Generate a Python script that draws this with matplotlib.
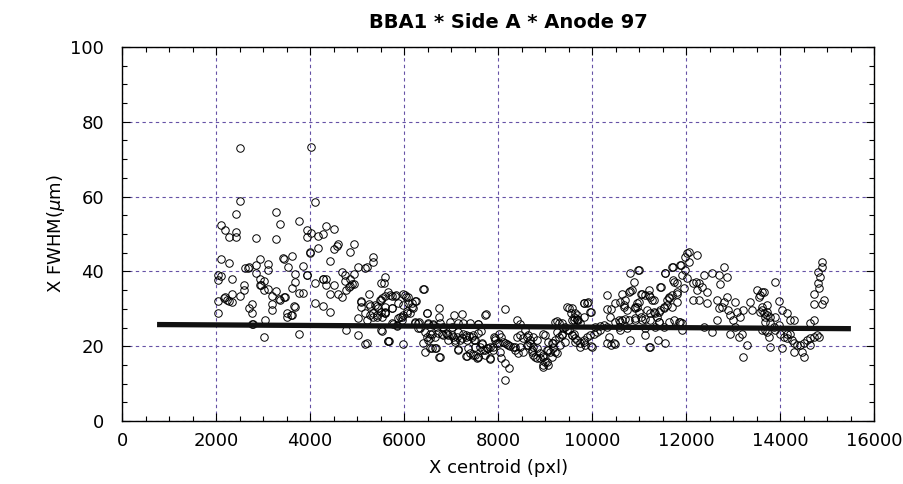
import numpy as np
import matplotlib
matplotlib.use("Agg")
import matplotlib.pyplot as plt
from matplotlib.ticker import MultipleLocator

plt.rcParams['font.family'] = ['DejaVu Sans']
plt.rcParams['mathtext.fontset'] = 'dejavusans'

# centroid / FWHM pairs, anode 97, split in three x ranges
x_left = [2518, 2518, 2433, 2107, 2192, 2270, 2433, 2433, 2107, 2283, 2043, 2107, 2036, 2341,
          2602, 2602, 2518, 2347, 2043, 2185, 2228, 2283, 2347, 2036, 2858, 2624, 2695, 2858,
          2928, 2858, 2928, 3013, 3100, 3100, 2695, 2773, 2773, 2952, 3022, 3100, 3183, 3268,
          3183, 3183, 2773, 3036, 3015, 3268, 3268, 3353, 3346, 3440, 3447, 3525, 3609, 3673,
          3673, 3609, 3766, 3766, 3843, 3681, 3516, 3516, 3609, 3766, 3851, 3928, 3928, 3928,
          4006, 4022, 4107, 4013, 4107, 4107, 4176, 4268, 4176, 4347, 4517, 4268, 4341, 4347,
          4432, 4268, 4432, 4432, 4517, 4588, 4517, 4588, 4673, 4673, 4745, 4751, 4852, 4937,
          4852, 4937, 4760, 4852, 4937, 5015, 5169, 5334, 5334, 4760, 5015, 5176, 5015, 5091,
          5091, 5171, 5256, 5339, 5418, 5505, 5590, 5418, 5505, 5590, 5512, 5660, 5580, 2780,
          2177, 2688, 2937, 3362, 3418, 4001, 3943, 4283, 4887, 4837, 4566, 3468, 3596, 3666,
          5086, 5207, 5256, 5490, 5384, 5278, 5452, 5420, 5278, 5207, 5349, 5207, 5512]
y_left = [72.9, 58.9, 55.4, 52.5, 51.0, 49.3, 50.5, 49.1, 43.3, 42.3, 39.0, 38.9, 37.6, 38.0,
          36.3, 35.0, 33.3, 34.1, 32.2, 33.2, 32.4, 32.0, 31.9, 28.9, 49.0, 40.9, 41.3, 41.7,
          43.4, 39.5, 38.0, 37.5, 42.1, 40.4, 30.1, 28.9, 31.4, 36.3, 35.0, 35.4, 33.5, 34.7,
          31.2, 29.7, 25.9, 26.9, 22.4, 55.9, 48.7, 52.6, 32.5, 33.1, 43.4, 41.2, 44.1, 39.2,
          37.1, 35.7, 53.6, 34.2, 34.2, 30.6, 28.8, 27.8, 28.3, 23.4, 41.5, 51.1, 49.3, 39.0,
          45.1, 73.3, 58.6, 50.4, 37.0, 31.6, 49.4, 50.1, 46.2, 52.1, 51.4, 38.0, 38.0, 36.3,
          34.1, 30.7, 29.1, 42.8, 46.0, 47.4, 36.3, 33.9, 33.2, 39.8, 39.0, 37.5, 38.0, 39.3,
          45.1, 47.2, 35.0, 36.2, 36.6, 41.3, 41.0, 43.8, 42.5, 24.3, 23.0, 20.5, 27.6, 32.2,
          30.4, 29.0, 31.3, 28.8, 30.8, 32.4, 33.4, 27.9, 29.2, 29.0, 24.3, 21.5, 36.8, 25.9,
          33.0, 40.8, 36.4, 32.4, 43.5, 45.0, 39.0, 37.9, 36.6, 35.9, 46.8, 33.2, 28.3, 30.7,
          31.9, 41.1, 34.1, 32.4, 31.0, 30.7, 30.1, 28.3, 28.3, 27.0, 27.9, 20.8, 36.8]

x_mid = [5590, 5665, 5750, 5830, 5880, 5986, 6037, 6091, 5526, 5597, 5746, 5597, 5526, 5916,
         5986, 6058, 6129, 6200, 6164, 6256, 6427, 5774, 5845, 5526, 5665, 5986, 6235, 6324,
         6341, 6497, 6737, 6737, 6518, 6624, 6554, 6660, 6731, 6801, 6554, 6412, 6448, 6590,
         6682, 6751, 6980, 7065, 7228, 7015, 6822, 6895, 6943, 6943, 7050, 7086, 7157, 7250,
         7313, 7390, 7157, 7320, 7405, 7512, 7547, 7582, 7405, 7569, 7746, 7475, 7497, 7654,
         7618, 7689, 7760, 7831, 7831, 7902, 7973, 8009, 8059, 7938, 8150, 8065, 8150, 8242,
         8150, 8397, 8469, 8397, 8469, 8540, 8150, 8220, 8327, 8363, 8433, 8525, 8610, 8682,
         8717, 8752, 8823, 8895, 8965, 8965, 9036, 9071, 9142, 9214, 8576, 8645, 8752, 8823,
         9001, 8965, 9214, 9285, 9356, 9427, 9249, 9356, 9462, 9569, 9604, 9462, 9547, 9604,
         9675, 9177, 9320, 9427, 9640, 5703, 5809, 6022, 6093, 6235, 5739, 5986, 6164, 5597,
         5951, 6058, 5880, 5951, 5845, 5739, 6235, 6306, 6412, 6483, 6767, 6695, 6624, 6518,
         6590, 6483, 6518, 6554, 6660, 6767, 6837, 5669, 6306, 6448, 7157, 7263, 7582, 7725,
         6908, 7015, 7121, 7228, 7313, 7441, 7582, 7640, 7086, 7192, 7335, 7512, 7654, 7157,
         7369, 7512, 7725, 7795, 7902, 7938, 7923, 8009, 8044, 8114, 8185, 8257, 8363, 8469,
         7335, 7475, 7582, 7725, 7831, 8611, 8682, 8646, 8752, 8717, 8823, 8895, 8788, 8965,
         9001, 9071, 8965, 9036, 9107, 9178, 9249, 9071, 9142, 9214, 9285, 9356, 9249, 9391,
         9498, 9498, 9675, 9569, 9710, 9817, 9888, 9817, 9959, 9994, 9675, 9746, 9817, 9888,
         9959]
y_mid = [38.6, 34.6, 33.4, 33.7, 31.5, 34.0, 33.2, 33.1, 32.8, 30.4, 30.1, 28.8, 27.9, 27.9,
         28.3, 29.4, 29.0, 30.1, 31.5, 32.2, 35.4, 25.9, 25.5, 24.1, 21.5, 20.6, 26.1, 26.4,
         24.8, 28.8, 30.1, 27.9, 25.9, 25.9, 23.4, 22.5, 23.6, 23.3, 22.1, 20.8, 18.5, 19.4,
         19.4, 17.2, 26.5, 28.3, 28.6, 25.2, 25.2, 23.6, 23.0, 21.7, 22.5, 21.2, 23.9, 23.4,
         22.5, 22.8, 19.0, 17.4, 18.1, 17.6, 16.8, 17.2, 26.1, 25.9, 28.5, 23.0, 21.7, 20.6,
         19.9, 19.0, 19.4, 19.9, 16.5, 19.0, 20.8, 23.4, 22.5, 22.1, 29.9, 16.8, 15.4, 14.3,
         11.0, 27.0, 25.9, 22.5, 23.0, 22.1, 20.8, 20.3, 19.9, 19.0, 18.1, 18.5, 20.3, 20.8,
         19.0, 17.6, 16.8, 18.1, 17.2, 15.0, 15.9, 19.0, 17.2, 18.5, 24.3, 23.0, 22.5, 21.7,
         23.0, 23.4, 26.5, 26.1, 26.1, 25.2, 23.9, 23.4, 24.3, 23.0, 23.4, 30.6, 29.0, 27.9,
         27.2, 20.8, 20.3, 21.2, 21.2, 33.7, 33.4, 33.7, 31.5, 32.2, 30.1, 31.0, 30.6, 29.2,
         27.9, 28.8, 27.5, 27.0, 25.7, 26.1, 26.5, 26.1, 35.4, 28.8, 26.1, 25.2, 25.7, 26.1,
         23.4, 22.5, 21.7, 19.4, 19.4, 17.2, 23.0, 21.4, 24.8, 23.9, 26.1, 26.1, 25.9, 28.3,
         23.4, 23.0, 22.5, 22.1, 23.0, 22.5, 23.6, 24.1, 21.7, 21.8, 21.7, 21.7, 20.8, 19.2,
         19.4, 19.9, 19.0, 19.4, 19.9, 21.7, 22.5, 20.8, 18.5, 21.2, 20.6, 20.1, 19.9, 19.7,
         17.4, 17.6, 17.2, 17.6, 16.8, 22.5, 21.7, 20.3, 19.9, 18.5, 19.4, 16.8, 17.2, 17.6,
         15.9, 15.0, 14.5, 19.0, 18.5, 19.4, 18.1, 21.2, 20.8, 21.7, 22.5, 23.0, 26.8, 24.8,
         24.3, 30.1, 28.3, 27.0, 27.0, 27.9, 31.6, 31.5, 29.2, 19.9, 21.7, 20.8, 21.7, 22.5,
         23.0]

x_right = [9569, 9640, 9604, 9675, 9746, 9817, 9902, 9980, 9569, 9640, 9732, 9817, 9853, 9973,
           10030, 10101, 10172, 10066, 10172, 10243, 10314, 10314, 10314, 10399, 10384, 10491,
           10314, 10399, 10491, 10562, 10633, 10598, 10740, 10633, 10704, 10669, 10740, 10811,
           10917, 10953, 10988, 10811, 10896, 10811, 10988, 11038, 11129, 11236, 11214, 11307,
           11165, 11236, 10917, 11058, 11129, 11129, 11236, 11307, 11378, 11413, 11449, 11520,
           11591, 11626, 11697, 11221, 11392, 11555, 11463, 11541, 11718, 11718, 11803, 11803,
           11895, 11980, 12016, 12052, 11980, 12016, 12052, 12143, 12214, 12264, 12335, 12228,
           12228, 12385, 12441, 12547, 12441, 12282, 12143, 11874, 11909, 12370, 12547, 12654,
           12689, 12795, 12866, 12760, 12901, 13043, 13078, 13150, 13220, 13363, 13398, 12795,
           12866, 12710, 12689, 12937, 13007, 13043, 13114, 13185, 13291, 13206, 12937, 12654,
           13506, 13612, 13540, 13612, 13718, 13683, 13753, 13683, 10974, 10845, 10789, 10598,
           10669, 10988, 10953, 10917, 11058, 11200, 11271, 11044, 11129, 10917, 10775, 10704,
           10598, 10491, 10562, 10349, 10455, 11200, 11342, 11413, 11520, 11591, 11626, 11697,
           11449, 11555, 11733, 11803, 11803, 11697, 11874, 11909, 11945, 11342, 11413, 11520,
           11626, 11733, 11839, 11909, 13576, 13647, 13576, 13647, 13718, 13789, 13896, 13683,
           13789, 13860, 13966, 13612, 13718, 13896, 14002, 14072, 14143, 14215, 14143, 14250,
           14286, 14357, 14428, 14499, 14570, 14641, 14712, 14783, 14641, 14463, 14499, 14286,
           14037, 13789, 13896, 13966, 14037, 14143, 14215, 14286, 14712, 14818, 14641, 13612,
           13718, 14889, 14889, 14796, 14838, 14796, 14725, 14818, 14924, 14889, 14712]
y_right = [30.1, 28.8, 27.0, 27.0, 26.1, 31.6, 31.8, 29.2, 23.0, 22.1, 19.9, 21.2, 20.3, 20.1,
           23.4, 23.9, 24.3, 25.2, 25.4, 25.7, 25.2, 33.7, 29.9, 29.9, 27.9, 31.6,
           20.8, 20.3, 20.6, 27.0, 27.0, 24.3, 24.8, 34.0, 32.4, 31.0, 29.7, 21.7,
           30.4, 31.6, 29.2, 39.5, 37.2, 34.8, 40.4, 34.1, 33.7, 33.2, 35.0, 32.4,
           29.7, 28.8, 27.0, 27.0, 24.8, 23.0, 27.0, 29.2, 27.9, 26.5, 29.7, 30.6,
           32.4, 33.2, 33.7, 19.7, 21.8, 20.9, 35.9, 39.5, 41.3, 37.7, 36.8, 34.1,
           41.7, 43.9, 44.8, 45.3, 40.4, 38.2, 42.6, 36.8, 37.2, 36.8, 35.9, 35.0,
           44.5, 39.0, 34.6, 39.5, 31.5, 32.4, 32.4, 26.5, 24.3, 25.2, 23.9, 32.4,
           30.1, 31.9, 33.2, 30.6, 29.7, 31.9, 29.2, 27.9, 29.7, 31.9, 29.7, 41.3,
           38.6, 36.6, 39.0, 28.3, 27.0, 25.2, 22.5, 23.4, 20.3, 17.2, 23.4, 27.0,
           35.0, 34.6, 33.2, 29.7, 29.2, 27.9, 22.5, 24.3, 40.4, 35.0, 34.6, 31.9,
           30.6, 31.9, 30.6, 30.1, 34.1, 33.7, 32.4, 27.7, 27.2, 27.5, 27.0, 27.2,
           26.5, 26.5, 25.2, 22.5, 20.8, 19.9, 28.8, 29.2, 30.1, 31.0, 32.8, 30.6,
           35.9, 39.5, 37.2, 34.6, 31.9, 41.3, 41.7, 39.0, 35.5, 25.2, 26.5, 25.2,
           26.5, 27.0, 26.5, 26.1, 33.7, 34.6, 29.2, 28.8, 28.3, 27.9, 27.7, 26.5,
           26.1, 25.2, 25.7, 24.3, 23.9, 24.3, 23.4, 22.5, 23.4, 23.4, 22.1, 21.7,
           20.8, 20.3, 20.3, 20.8, 21.7, 22.1, 22.5, 23.0, 20.3, 18.5, 17.2, 18.5,
           19.4, 19.9, 37.2, 32.2, 29.7, 29.0, 27.0, 27.0, 27.0, 22.5, 26.1, 30.6,
           31.0, 42.4, 41.1, 39.9, 38.6, 37.0, 34.1, 35.5, 32.4, 31.3, 31.3]

# linear fit endpoints
fit_x = [745, 15505]
fit_y = [25.8, 24.7]

x_centroid = np.array(x_left + x_mid + x_right)
fwhm = np.array(y_left + y_mid + y_right)

fig = plt.figure(figsize=(9.04, 4.84), dpi=100)
ax = fig.add_axes([0.135, 0.130, 0.832, 0.773])

grid_color = '#6652a6'
ax.grid(True, which='major', color=grid_color, linestyle=(0, (3, 3)), linewidth=0.8)
ax.set_axisbelow(True)

ax.plot(x_centroid, fwhm, linestyle='none', marker='o', markersize=5.4,
        markerfacecolor='none', markeredgecolor='black', markeredgewidth=0.7)
ax.plot(fit_x, fit_y, color='#111111', linewidth=3.8, solid_capstyle='butt')

ax.set_xlim(0, 16000)
ax.set_ylim(0, 100)
ax.xaxis.set_major_locator(MultipleLocator(2000))
ax.xaxis.set_minor_locator(MultipleLocator(500))
ax.yaxis.set_major_locator(MultipleLocator(20))
ax.yaxis.set_minor_locator(MultipleLocator(5))
ax.tick_params(which='both', direction='in', top=True, right=True, labelsize=13, width=0.8)
ax.tick_params(which='major', length=6)
ax.tick_params(axis='x', which='major', pad=8)
ax.tick_params(axis='y', which='major', pad=13)
ax.tick_params(which='minor', length=3.5)
for s in ax.spines.values():
    s.set_linewidth(1.0)

ax.set_xlabel('X centroid (pxl)', fontsize=13, labelpad=6)
ax.set_ylabel(r'X FWHM($\mu$m)', fontsize=13, labelpad=2)
ax.set_title('BBA1 * Side A * Anode 97', fontsize=14, fontweight='bold', pad=14, x=0.514)

fig.savefig('out.png', dpi=100)
